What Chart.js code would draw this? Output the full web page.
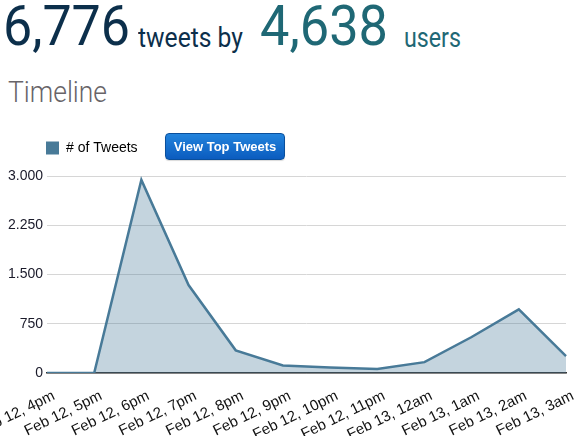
<!DOCTYPE html>
<html>
<head>
<meta charset="utf-8">
<script src="https://cdn.jsdelivr.net/npm/chart.js@4/dist/chart.umd.min.js"></script>
<style>
  html, body { margin: 0; padding: 0; background: #fff; width: 578px; height: 436px; overflow: hidden; }
  .fit { position: absolute; white-space: nowrap; display: inline-block; line-height: 1; font-family: Roboto, "Open Sans", sans-serif; transform-origin: 0 0; }
  #chartWrap { position: absolute; left: 0; top: 120px; width: 578px; height: 316px; }
  #topBtn {
    position: absolute; left: 165px; top: 133px; width: 120px; height: 27px;
    box-sizing: border-box; border: 1px solid #0a4f9c; border-radius: 4px;
    background: linear-gradient(#2283dc, #0b5cbf);
    color: #fff; font: bold 13px "Liberation Sans", Arial, sans-serif;
    padding: 0; cursor: pointer; box-shadow: 0 1px 1px rgba(0,0,0,0.15);
  }
</style>
</head>
<body>
<span class="fit" data-w="127" style="left:3px; top:-2px; font-size:56px; color:#0c2f4b;">6,776</span>
<span class="fit" data-w="105" style="left:138px; top:23.5px; font-size:28px; color:#0c2f4b;">tweets by</span>
<span class="fit" data-w="128" style="left:260px; top:-2px; font-size:56px; color:#1f6875;">4,638</span>
<span class="fit" data-w="57" style="left:404px; top:23.5px; font-size:28px; color:#1f6875;">users</span>
<span class="fit" data-w="99" style="left:8px; top:76.5px; font-size:30px; font-weight:300; color:#686468;">Timeline</span>

<div id="chartWrap"><canvas id="c" width="578" height="316"></canvas></div>
<button id="topBtn">View Top Tweets</button>

<script>
// ---- data ----
const categories = ['Feb 12, 4pm', 'Feb 12, 5pm', 'Feb 12, 6pm', 'Feb 12, 7pm', 'Feb 12, 8pm', 'Feb 12, 9pm',
                    'Feb 12, 10pm', 'Feb 12, 11pm', 'Feb 13, 12am', 'Feb 13, 1am', 'Feb 13, 2am', 'Feb 13, 3am'];
const tweetCounts = [0, 0, 2940, 1340, 345, 115, 85, 60, 165, 548, 970, 258];
const yTickValues = [0, 750, 1500, 2250, 3000];
const seriesLabel = '# of Tweets';

// fit header text widths
function fitText() {
  document.querySelectorAll('.fit').forEach(el => {
    el.style.transform = 'none';
    const w = el.getBoundingClientRect().width;
    const target = +el.dataset.w;
    if (w > 0) el.style.transform = 'scaleX(' + (target / w) + ')';
  });
}
fitText();
if (document.fonts && document.fonts.ready) document.fonts.ready.then(fitText);

const legendAdjust = {
  id: 'legendAdjust',
  beforeLayout(chart) {
    const lg = chart.legend;
    if (lg && !lg._extraPatched) {
      const orig = lg.fit.bind(lg);
      lg.fit = function () { orig(); this.height += 11; };
      lg._extraPatched = true;
    }
  },
  afterLayout(chart) { if (chart.legend) chart.legend.left = 25; }
};

new Chart(document.getElementById('c'), {
  type: 'line',
  data: {
    labels: categories,
    datasets: [{
      label: seriesLabel,
      data: tweetCounts,
      borderColor: 'rgb(72,122,152)',
      backgroundColor: 'rgba(72,122,152,0.32)',
      borderWidth: 2.5,
      fill: 'origin',
      tension: 0,
      pointRadius: 0,
      pointHoverRadius: 0
    }]
  },
  options: {
    responsive: false,
    animation: false,
    locale: 'de-DE',
    layout: { padding: { left: 0, right: 12, top: 0, bottom: 0 } },
    plugins: {
      legend: {
        display: true,
        position: 'top',
        align: 'start',
        labels: {
          boxWidth: 13, boxHeight: 13, padding: 21,
          color: '#111',
          font: { family: '"Liberation Sans", Arial, sans-serif', size: 14 },
          generateLabels(chart) {
            return [{ text: seriesLabel, fillStyle: 'rgb(72,122,152)', strokeStyle: 'rgb(72,122,152)', lineWidth: 0, datasetIndex: 0 }];
          }
        }
      },
      tooltip: { enabled: false }
    },
    scales: {
      x: {
        grid: { display: true, color: 'rgba(0,0,0,0)', drawTicks: false },
        border: { display: true, color: '#333', width: 1.5 },
        ticks: {
          autoSkip: false, maxRotation: 26, minRotation: 26, padding: 14, labelOffset: 7,
          color: '#111',
          font: { family: '"Liberation Sans", Arial, sans-serif', size: 15 }
        },
        afterFit(scale) { scale.paddingLeft = 0; scale.paddingRight = 0; scale.height = 63; }
      },
      y: {
        min: 0, max: 3000,
        grid: { color: '#d6d6d6', lineWidth: 1, drawTicks: false },
        border: { display: false },
        afterBuildTicks(scale) { scale.ticks = yTickValues.map(v => ({ value: v })); },
        ticks: {
          padding: 4,
          color: '#1a1a2a',
          font: { family: '"Liberation Sans", Arial, sans-serif', size: 14 },
          callback(v) { return Number(v).toLocaleString('de-DE'); }
        },
        afterFit(scale) { scale.width = 47; }
      }
    }
  },
  plugins: [legendAdjust]
});
</script>
</body>
</html>
